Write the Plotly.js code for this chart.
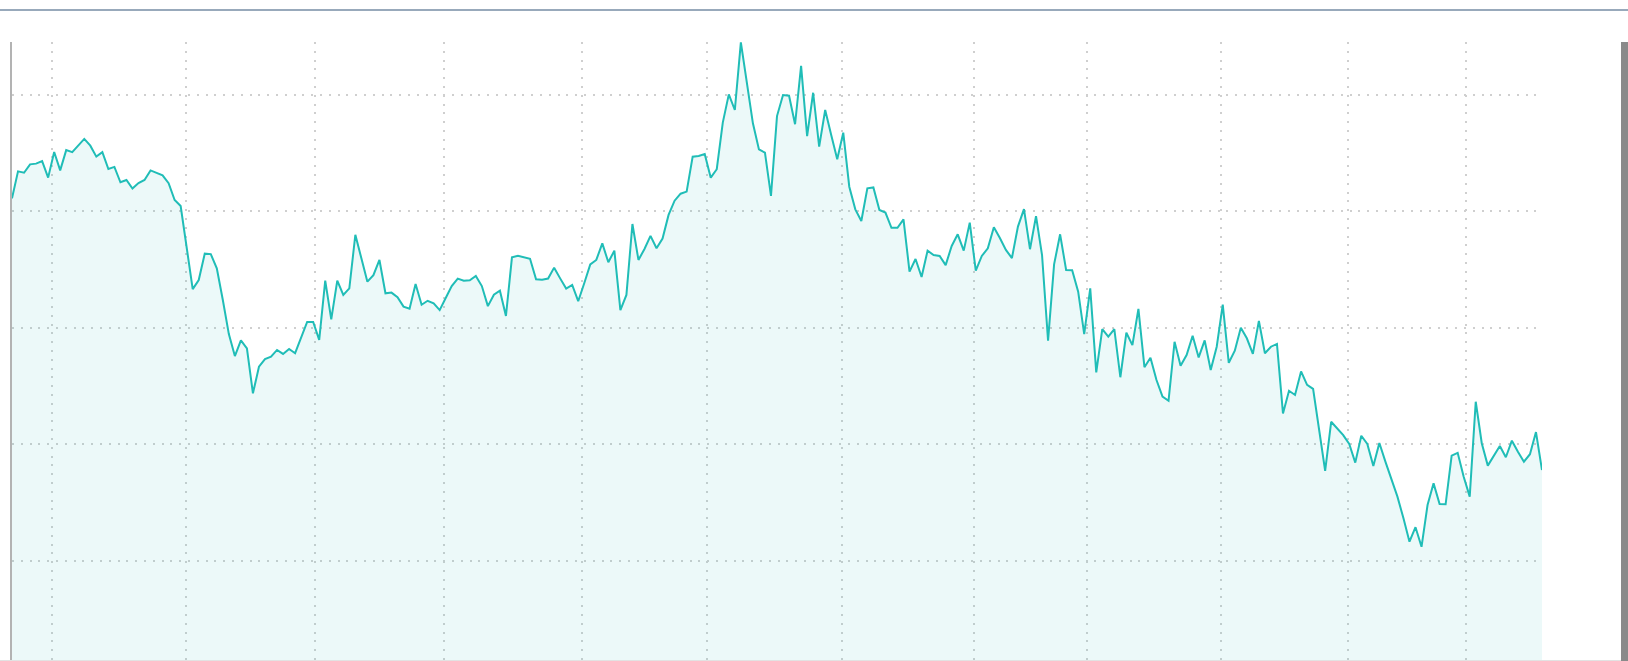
<!DOCTYPE html>
<html>
<head>
<meta charset="utf-8">
<script src="https://cdn.plot.ly/plotly-3.0.1.min.js"></script>
<style>
  html, body { margin: 0; padding: 0; background: #ffffff; overflow: hidden; }
  #wrap { position: relative; width: 1628px; height: 661px; }
  #chart { position: absolute; left: 0; top: 0; width: 1628px; height: 661px; }
  #topRule { position: absolute; left: 0; top: 9px; width: 1628px; height: 2px; background: #98a9bb; }
  #sideBar { position: absolute; left: 1621px; top: 42px; width: 7px; height: 619px; background: #8a8a8a; }
  #bottomRule { position: absolute; left: 0; top: 660px; width: 1621px; height: 1px; background: #e2e2e2; }
</style>
</head>
<body>
<div id="wrap">
  <div id="chart"></div>
  <div id="topRule"></div>
  <div id="sideBar"></div>
  <div id="bottomRule"></div>
</div>
<script>
// Daily closing values (one per trading day)
const dayValues = [
  25.55, 26.71, 26.65, 27.01, 27.04, 27.15, 26.44, 27.54, 26.75, 27.62,
  27.53, 27.81, 28.10, 27.81, 27.34, 27.53, 26.81, 26.90, 26.24, 26.34,
  25.97, 26.21, 26.34, 26.75, 26.64, 26.54, 26.20, 25.48, 25.22, 23.48,
  21.66, 22.05, 23.18, 23.16, 22.55, 21.19, 19.73, 18.79, 19.46, 19.12,
  17.19, 18.33, 18.66, 18.76, 19.05, 18.88, 19.09, 18.91, 19.62, 20.25,
  20.25, 19.48, 22.02, 20.36, 22.02, 21.41, 21.69, 23.99, 22.98, 21.98,
  22.26, 22.91, 21.48, 21.51, 21.31, 20.91, 20.82, 21.88, 20.99, 21.16,
  21.05, 20.76, 21.28, 21.79, 22.11, 22.02, 22.04, 22.22, 21.79, 20.93,
  21.42, 21.59, 20.51, 23.02, 23.09, 23.04, 22.96, 22.08, 22.06, 22.11,
  22.58, 22.12, 21.68, 21.84, 21.14, 21.91, 22.72, 22.91, 23.62, 22.81,
  23.31, 20.76, 21.41, 24.45, 22.91, 23.38, 23.94, 23.41, 23.83, 24.84,
  25.45, 25.75, 25.84, 27.34, 27.37, 27.45, 26.44, 26.80, 28.80, 30.01,
  29.34, 32.24, 30.48, 28.77, 27.65, 27.51, 25.66, 29.08, 29.98, 29.95,
  28.73, 31.23, 28.22, 30.08, 27.77, 29.34, 28.27, 27.23, 28.37, 26.05,
  25.08, 24.58, 25.98, 26.02, 25.05, 24.94, 24.29, 24.29, 24.65, 22.41,
  22.95, 22.18, 23.31, 23.12, 23.08, 22.69, 23.51, 24.01, 23.31, 24.51,
  22.45, 23.08, 23.41, 24.31, 23.85, 23.34, 22.99, 24.34, 25.09, 23.37,
  24.79, 23.12, 19.45, 22.72, 24.01, 22.48, 22.47, 21.55, 19.73, 21.69,
  18.09, 19.94, 19.62, 19.94, 17.88, 19.79, 19.26, 20.81, 18.31, 18.72,
  17.76, 17.05, 16.87, 19.40, 18.37, 18.83, 19.66, 18.73, 19.46, 18.19,
  19.19, 20.99, 18.50, 19.02, 20.00, 19.55, 18.88, 20.30, 18.91, 19.19,
  19.31, 16.33, 17.30, 17.12, 18.13, 17.55, 17.38, 15.57, 13.87, 15.97,
  15.69, 15.40, 15.02, 14.22, 15.37, 15.02, 14.07, 15.06, 14.26, 13.50,
  12.76, 11.83, 10.83, 11.45, 10.61, 12.40, 13.33, 12.44, 12.43, 14.52,
  14.64, 13.61, 12.76, 16.83, 15.05, 14.09, 14.50, 14.93, 14.45, 15.16,
  14.69, 14.26, 14.58, 15.53, 13.90
];

// Month boundaries (in trading-day index) where the vertical grid lines sit
const monthGridPos = [6.69, 28.88, 50.30, 71.71, 94.67, 115.32, 137.83, 159.64, 178.50, 200.65, 221.73, 241.32];

// Horizontal grid values
const yGridVals = [10, 15, 20, 25, 30];

const trace = {
  type: 'scatter',
  mode: 'lines',
  y: dayValues,
  line: { color: '#20bdb7', width: 2 },
  fill: 'tozeroy',
  fillcolor: 'rgba(32,189,183,0.085)',
  hoverinfo: 'skip'
};

const layout = {
  width: 1628,
  height: 661,
  margin: { l: 12, r: 86, t: 42, b: 1, pad: 0 },
  paper_bgcolor: 'rgba(0,0,0,0)',
  plot_bgcolor: 'rgba(0,0,0,0)',
  showlegend: false,
  xaxis: {
    range: [0, dayValues.length - 1],
    tickmode: 'array',
    tickvals: monthGridPos,
    showticklabels: false,
    ticks: '',
    showgrid: true,
    gridcolor: '#cfcfcf',
    gridwidth: 2,
    griddash: '2px,6.8px',
    zeroline: false,
    showline: false,
    fixedrange: true
  },
  yaxis: {
    range: [5.755, 32.256],
    tickmode: 'array',
    tickvals: yGridVals,
    showticklabels: false,
    ticks: '',
    showgrid: true,
    gridcolor: '#cfcfcf',
    gridwidth: 2,
    griddash: '2px,6.8px',
    zeroline: false,
    showline: true,
    linecolor: '#b3b3b3',
    linewidth: 2,
    fixedrange: true
  }
};

Plotly.newPlot('chart', [trace], layout, { displayModeBar: false, staticPlot: true, responsive: false });
</script>
</body>
</html>
